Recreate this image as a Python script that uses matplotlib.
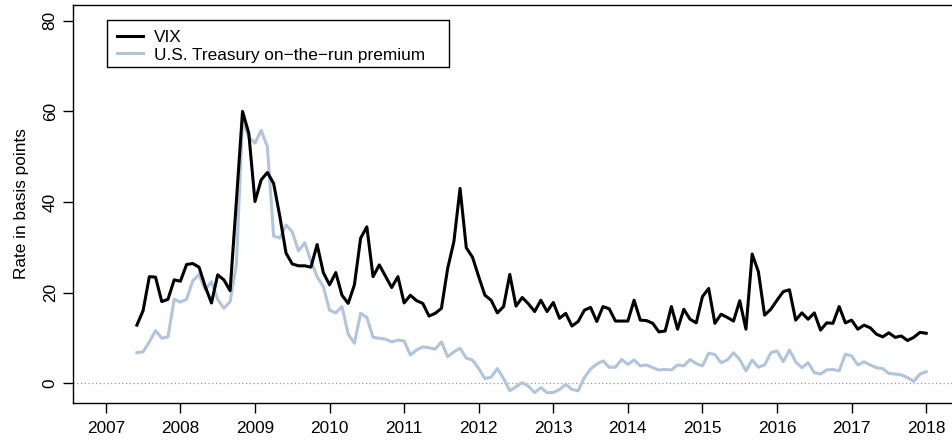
import numpy as np
import pandas as pd
import matplotlib
matplotlib.use("Agg")
import matplotlib.pyplot as plt
from matplotlib.patches import Rectangle

plt.rcParams['font.family'] = ['Liberation Sans', 'DejaVu Sans']

start_month = "2007-06"
n_months = 128

vix = [12.8, 16.0, 23.5, 23.4, 18.0, 18.5, 22.8, 22.5, 26.2, 26.4,
       25.6, 21.3, 17.7, 23.9, 22.8, 20.4, 40.0, 60.0, 55.2, 40.1,
       44.9, 46.5, 44.1, 36.8, 28.7, 26.3, 25.9, 25.9, 25.6, 30.6,
       24.4, 21.7, 24.4, 19.4, 17.6, 21.7, 32.0, 34.5, 23.5, 26.1,
       23.6, 21.1, 23.5, 17.7, 19.4, 18.2, 17.6, 14.8, 15.4, 16.5,
       25.3, 31.2, 43.0, 29.9, 27.8, 23.5, 19.4, 18.3, 15.5, 16.9,
       24.0, 17.0, 18.9, 17.5, 15.8, 18.3, 15.8, 17.8, 14.3, 15.4,
       12.6, 13.6, 16.1, 16.7, 13.6, 16.9, 16.4, 13.7, 13.7, 13.7,
       18.3, 13.9, 13.8, 13.2, 11.3, 11.5, 16.9, 11.9, 16.3, 14.1,
       13.3, 19.1, 20.9, 13.2, 15.2, 14.5, 13.7, 18.2, 11.9, 28.5,
       24.6, 15.0, 16.3, 18.3, 20.2, 20.6, 13.9, 15.5, 14.1, 15.5,
       11.7, 13.3, 13.2, 16.9, 13.3, 13.9, 11.9, 12.8, 12.2, 10.8,
       10.2, 11.1, 10.1, 10.4, 9.4, 10.1, 11.2, 11.0]

treasury = [6.7, 6.9, 9.1, 11.6, 9.9, 10.2, 18.5, 17.9, 18.5, 22.6,
            24.0, 20.6, 22.4, 18.5, 16.5, 18.0, 26.1, 58.1, 54.3, 53.0,
            55.8, 52.2, 32.5, 32.0, 34.9, 33.4, 29.2, 31.0, 27.0, 23.5,
            21.3, 16.1, 15.5, 16.9, 10.8, 8.8, 15.4, 14.5, 10.1, 9.9,
            9.7, 9.1, 9.5, 9.3, 6.2, 7.3, 8.0, 7.8, 7.5, 9.1,
            5.8, 6.9, 7.7, 5.5, 5.1, 3.2, 1.0, 1.3, 3.2, 1.0,
            -1.7, -0.8, 0.1, -0.7, -2.1, -1.0, -2.1, -2.1, -1.4, -0.3,
            -1.4, -1.7, 1.2, 3.1, 4.2, 4.9, 3.5, 3.5, 5.2, 4.1,
            5.1, 3.8, 4.0, 3.4, 2.9, 3.0, 2.9, 4.0, 3.8, 5.2,
            4.3, 3.8, 6.6, 6.3, 4.5, 5.1, 6.7, 5.2, 2.7, 5.1,
            3.5, 4.0, 6.7, 7.1, 4.7, 7.3, 4.7, 3.4, 4.5, 2.3,
            2.0, 2.9, 3.0, 2.7, 6.4, 6.0, 4.0, 4.7, 4.0, 3.4,
            3.2, 2.1, 2.0, 1.8, 1.2, 0.4, 2.0, 2.5]

year_ticks = list(range(2007, 2019))
y_ticks = [0, 20, 40, 60, 80]
labels = ["VIX", "U.S. Treasury on\u2212the\u2212run premium"]
ylabel = "Rate in basis points"

dates = pd.date_range(start_month, periods=n_months, freq="MS")
x = dates.year + (dates.month - 1) / 12.0

FS = 12.4
W, H = 952, 442
fig = plt.figure(figsize=(W / 100, H / 100), dpi=100)
ax_l, ax_r, ax_t, ax_b = 73, 959, 5, 403
ax = fig.add_axes([ax_l / W, (H - ax_b) / H, (ax_r - ax_l) / W, (ax_b - ax_t) / H])

ax.axhline(0, color="#999999", lw=0.9, ls=(0, (1, 2)), zorder=1)
ax.plot(x, vix, color="black", lw=2.2, label=labels[0], zorder=3)
ax.plot(x, treasury, color="#B0C4DE", lw=2.2, label=labels[1], zorder=2)

ax.set_xlim(2006.56, 2018.44)
ax.set_ylim(-4.4, 83.5)
ax.set_xticks(year_ticks)
ax.set_xticklabels([str(y) for y in year_ticks])
ax.set_yticks(y_ticks)
ax.set_yticklabels([str(v) for v in y_ticks], rotation=90, va="center")
ax.tick_params(axis="both", labelsize=FS, length=7, width=1, color="black")
ax.tick_params(axis="x", pad=6)
ax.tick_params(axis="y", pad=4)
ax.set_ylabel(ylabel, fontsize=FS, labelpad=10)
for s in ax.spines.values():
    s.set_linewidth(1.0)
    s.set_color("black")

# legend frame (R-style box)
fw = ax_r - ax_l
fh = ax_b - ax_t
lx0, lx1, lyt, lyb = 107, 449, 20, 67
ax.add_patch(Rectangle(((lx0 - ax_l) / fw, (ax_b - lyb) / fh),
                       (lx1 - lx0) / fw, (lyb - lyt) / fh,
                       transform=ax.transAxes, fill=True, facecolor="white",
                       edgecolor="black", lw=1.0, zorder=5))
leg = ax.legend(loc="upper left", bbox_to_anchor=((lx0 - ax_l) / fw, (ax_b - lyt) / fh),
                frameon=False, fontsize=FS, handlelength=1.5, handletextpad=0.65,
                borderpad=0.6, borderaxespad=0.0, labelspacing=0.12)
leg.set_zorder(6)

fig.savefig("out.png", dpi=100)
